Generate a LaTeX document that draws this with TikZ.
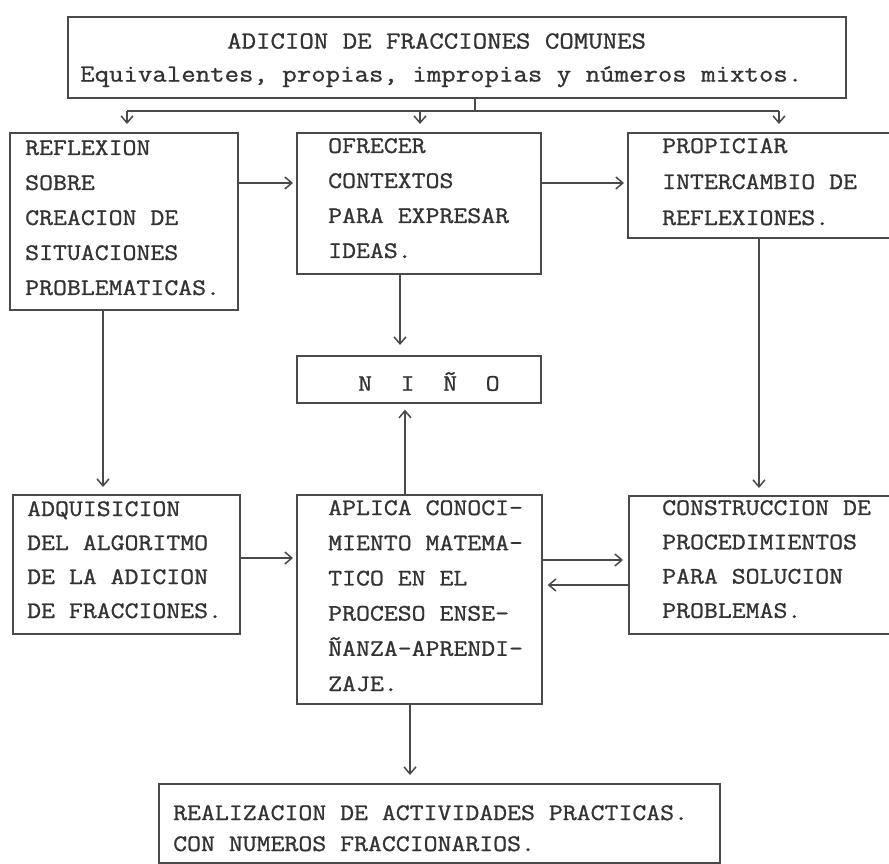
\documentclass[tikz,border=0pt]{standalone}
\usepackage{fontspec}
\setmonofont[FakeStretch=1.14,FakeBold=1]{Latin Modern Mono}
\usetikzlibrary{arrows.meta}
\definecolor{ink}{HTML}{333333}
\definecolor{lin}{HTML}{4A4A4A}
\begin{document}
\begin{tikzpicture}[x=1pt,y=-1pt,
  box/.style={draw=lin, line width=1.7pt, rectangle, inner sep=0pt, anchor=north west},
  txt/.style={anchor=north west, inner sep=0pt, align=left, text=ink, font=\ttfamily\fontsize{23.7}{35}\selectfont},
  arr/.style={draw=lin, line width=1.5pt, -{Straight Barb[length=7pt,width=12pt,line width=1.5pt]}},
  ln/.style={draw=lin, line width=1.5pt}]
\useasboundingbox (0,0) rectangle (889,864);
\fill[white] (0,0) rectangle (889,864);
\clip (0,0) rectangle (889,864);

% boxes
\node[box, minimum width=778pt, minimum height=81pt] (T) at (67,16) {};
\node[box, minimum width=228pt, minimum height=177pt] (A) at (9,132) {};
\node[box, minimum width=244pt, minimum height=141pt] (B) at (296,132) {};
\node[box, minimum width=280pt, minimum height=105pt] (C) at (627,132) {};
\node[box, minimum width=244pt, minimum height=47pt] (N) at (296,355) {};
\node[box, minimum width=227pt, minimum height=139pt] (D) at (12,494) {};
\node[box, minimum width=245pt, minimum height=209pt] (E) at (296,494) {};
\node[box, minimum width=280pt, minimum height=138pt] (F) at (628,495) {};
\node[box, minimum width=561pt, minimum height=79pt] (G) at (158,783) {};

% texts
\node[txt, font=\ttfamily\fontsize{24.6}{33}\selectfont] (Tt) at (80,33)
  {\hspace*{147pt}ADICION DE FRACCIONES COMUNES\\Equivalentes, propias, impropias y números mixtos.};
\node[txt] (At) at (25,140) {REFLEXION\\SOBRE\\CREACION DE\\SITUACIONES\\PROBLEMATICAS.};
\node[txt] (Bt) at (328,138) {OFRECER\\CONTEXTOS\\PARA EXPRESAR\\IDEAS.};
\node[txt, font=\ttfamily\fontsize{23.7}{36}\selectfont] (Ct) at (662,138) {PROPICIAR\\INTERCAMBIO DE\\REFLEXIONES.};
\node[txt] (Nt) at (358,372) {N\hspace{28.6pt}I\hspace{28.6pt}Ñ\hspace{28.6pt}O};
\node[txt, font=\ttfamily\fontsize{23.7}{34}\selectfont] (Dt) at (27,501) {ADQUISICION\\DEL ALGORITMO\\DE LA ADICION\\DE FRACCIONES.};
\node[txt, font=\ttfamily\fontsize{23.7}{35.2}\selectfont] (Et) at (328,500) {APLICA CONOCI-\\MIENTO MATEMA-\\TICO EN EL\\PROCESO ENSE-\\ÑANZA-APRENDI-\\ZAJE.};
\node[txt, font=\ttfamily\fontsize{23.7}{34.3}\selectfont] (Ft) at (662,500) {CONSTRUCCION DE\\PROCEDIMIENTOS\\PARA SOLUCION\\PROBLEMAS.};
\node[txt, font=\ttfamily\fontsize{23.7}{31}\selectfont] (Gt) at (173,805) {REALIZACION DE ACTIVIDADES PRACTICAS.\\CON NUMEROS FRACCIONARIOS.};

% distributor
\coordinate (tee) at (475,111);
\coordinate (dl) at (127,111);
\coordinate (dm) at (420,111);
\coordinate (dr) at (779,111);
\draw[ln] (T.south -| tee) -- (tee);
\draw[ln] (dl) -- (dr);
\draw[arr, shorten >=8pt] (dl) -- (dl |- A.north);
\draw[arr, shorten >=8pt] (dm) -- (dm |- B.north);
\draw[arr, shorten >=8pt] (dr) -- (dr |- C.north);

% connectors
\draw[arr, shorten >=3pt] (A.east |- 0,183) -- (B.west |- 0,183);
\draw[arr, shorten >=3pt] (B.east |- 0,183) -- (C.west |- 0,183);
\draw[arr, shorten >=10pt] (B.south -| 400,0) -- (N.north -| 400,0);
\draw[arr, shorten >=7pt] (A.south -| 103,0) -- (D.north -| 103,0);
\draw[arr, shorten >=7pt] (C.south -| 759,0) -- (F.north -| 759,0);
\draw[arr, shorten >=6pt] (E.north -| 405,0) -- (N.south -| 405,0);
\draw[arr, shorten >=3pt] (D.east |- 0,558) -- (E.west |- 0,558);
\draw[arr, shorten >=5pt] (E.east |- 0,560) -- (F.west |- 0,560);
\draw[arr, shorten >=5pt] (F.west |- 0,585) -- (E.east |- 0,585);
\draw[arr, shorten >=8pt] (E.south -| 410,0) -- (G.north -| 410,0);
\end{tikzpicture}
\end{document}
